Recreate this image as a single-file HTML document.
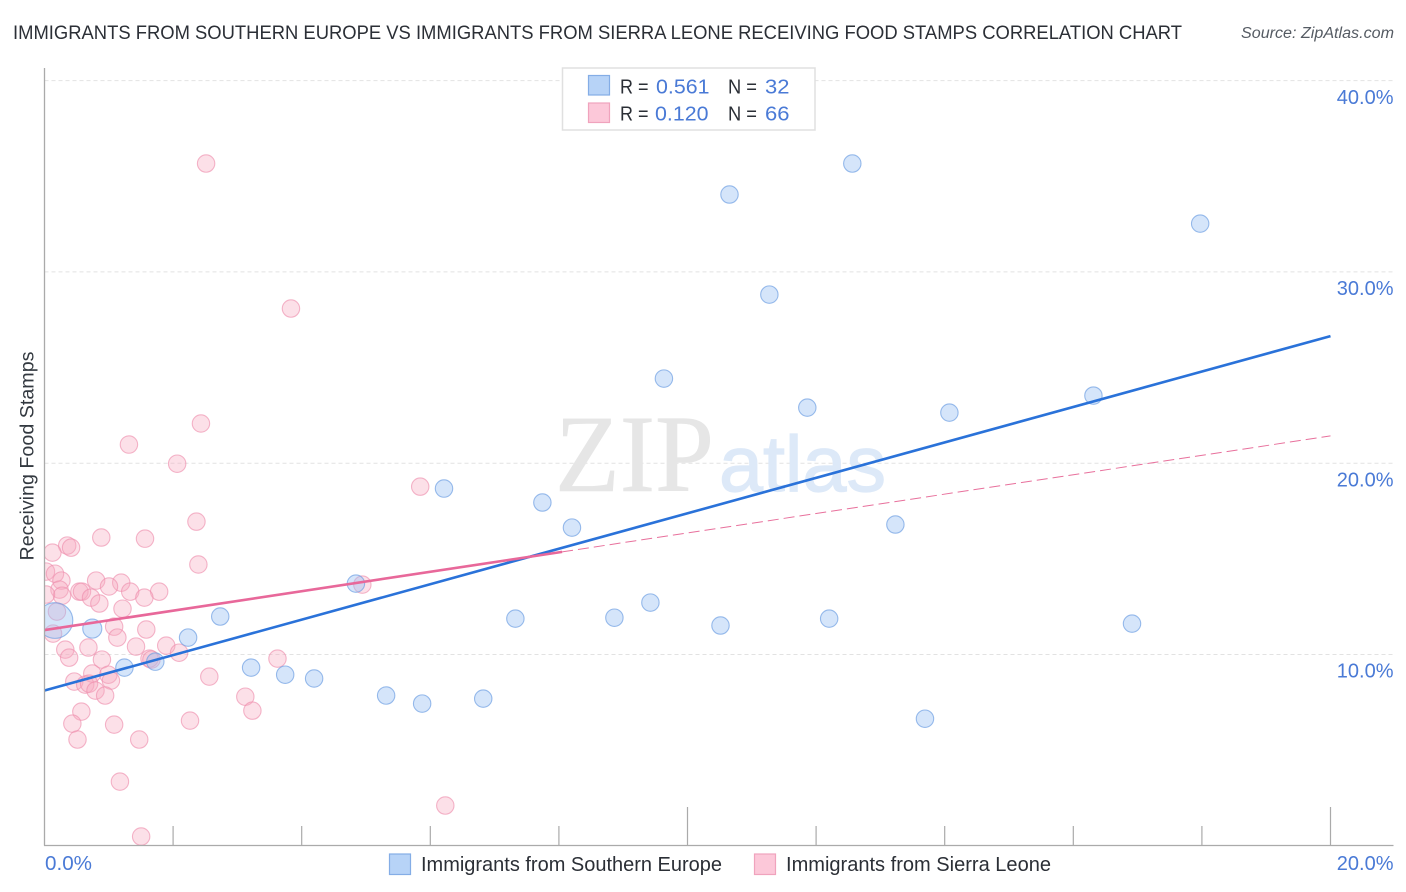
<!DOCTYPE html>
<html lang="en">
<head>
<meta charset="utf-8">
<title>Immigrants from Southern Europe vs Immigrants from Sierra Leone Receiving Food Stamps Correlation Chart</title>
<style>
html,body{margin:0;padding:0;background:#fff;}
svg{display:block;font-family:"Liberation Sans",sans-serif;}
</style>
</head>
<body>
<svg id="chart" xmlns="http://www.w3.org/2000/svg" width="1406" height="892" viewBox="0 0 1406 892">
  <rect x="0" y="0" width="1406" height="892" fill="#ffffff"/>
  <defs><clipPath id="plot-clip"><rect x="45" y="68" width="1348" height="777"/></clipPath></defs>

  <text x="13" y="39" font-size="19.5" fill="#2b2f36" textLength="1169" lengthAdjust="spacingAndGlyphs">IMMIGRANTS FROM SOUTHERN EUROPE VS IMMIGRANTS FROM SIERRA LEONE RECEIVING FOOD STAMPS CORRELATION CHART</text>
  <text x="1394" y="38" font-size="15.5" font-style="italic" fill="#555b63" text-anchor="end" textLength="153" lengthAdjust="spacingAndGlyphs">Source: ZipAtlas.com</text>

  <g id="grid"></g>

  <g>
    <text x="555" y="491" font-family="'Liberation Serif',serif" font-size="110" fill="#e6e6e6" stroke="#e6e6e6" stroke-width="0.6" textLength="159" lengthAdjust="spacingAndGlyphs">ZIP</text>
    <text x="719" y="491" font-size="79" fill="#dde9f8" stroke="#dde9f8" stroke-width="1.2" textLength="167" lengthAdjust="spacingAndGlyphs">atlas</text>
  </g>

  <g id="pink-points" clip-path="url(#plot-clip)"></g>
  <g id="blue-points" clip-path="url(#plot-clip)"></g>
  <g id="trends"></g>
  <g id="axes"></g>

  <text transform="translate(33.5,456) rotate(-90)" font-size="19" fill="#333940" text-anchor="middle" textLength="209" lengthAdjust="spacingAndGlyphs">Receiving Food Stamps</text>

  <g>
    <rect x="562.5" y="68" width="252.5" height="62" fill="#ffffff" stroke="#e0e0e0" stroke-width="1.5"/>
    <rect x="588.5" y="75.5" width="21" height="19.5" fill="#b7d3f7" stroke="#84ade6" stroke-width="1.2"/>
    <rect x="588.5" y="103" width="21" height="19.5" fill="#fcc8d9" stroke="#f0a3bd" stroke-width="1.2"/>
    <g font-size="20.5">
      <text x="620" y="93.5" fill="#2b2f36" textLength="28.5" lengthAdjust="spacingAndGlyphs">R =</text>
      <text x="656" y="93.5" fill="#4a7ad6" textLength="53.5" lengthAdjust="spacingAndGlyphs">0.561</text>
      <text x="728" y="93.5" fill="#2b2f36" textLength="29" lengthAdjust="spacingAndGlyphs">N =</text>
      <text x="765" y="93.5" fill="#4a7ad6" textLength="24.5" lengthAdjust="spacingAndGlyphs">32</text>
      <text x="620" y="120.5" fill="#2b2f36" textLength="28.5" lengthAdjust="spacingAndGlyphs">R =</text>
      <text x="655" y="120.5" fill="#4a7ad6" textLength="53.5" lengthAdjust="spacingAndGlyphs">0.120</text>
      <text x="728" y="120.5" fill="#2b2f36" textLength="29" lengthAdjust="spacingAndGlyphs">N =</text>
      <text x="765" y="120.5" fill="#4a7ad6" textLength="24.5" lengthAdjust="spacingAndGlyphs">66</text>
    </g>
  </g>

  <g>
    <rect x="389.5" y="854" width="21" height="20.5" fill="#b7d3f7" stroke="#84ade6" stroke-width="1.2"/>
    <text x="421" y="871" font-size="20" fill="#2b2f36" textLength="301" lengthAdjust="spacingAndGlyphs">Immigrants from Southern Europe</text>
    <rect x="754.5" y="854" width="21" height="20.5" fill="#fcc8d9" stroke="#f0a3bd" stroke-width="1.2"/>
    <text x="786" y="871" font-size="20" fill="#2b2f36" textLength="265" lengthAdjust="spacingAndGlyphs">Immigrants from Sierra Leone</text>
  </g>
</svg>
<script>
const blueX = [0.16,0.74,1.24,1.72,2.23,2.73,3.21,3.74,4.19,4.84,5.31,5.87,6.82,6.21,7.74,8.20,7.32,8.86,9.42,10.51,12.20,9.63,10.65,11.27,11.86,12.56,14.07,13.23,13.69,16.91,16.31,17.97];
const blueY = [11.79,11.37,9.33,9.64,10.90,12.00,9.33,8.96,8.76,13.72,7.87,7.45,7.71,18.69,17.96,16.65,11.89,11.94,12.73,11.53,11.89,24.44,34.06,28.83,22.92,35.68,22.66,16.81,6.66,11.63,23.55,32.54];
const blueWeight = [4.2,1.2,1,1,1,1,1,1,1,1,1,1,1,1,1,1,1,1,1,1,1,1,1,1,1,1,1,1,1,1,1,1];
const pinkX = [2.51,3.83,2.43,1.31,2.06,5.84,2.36,2.39,1.56,0.88,0.35,0.41,0.12,0.02,0.16,0.26,0.80,1.19,1.00,1.78,1.33,0.54,0.58,0.23,0.27,0.72,1.55,0.85,1.21,0.19,1.08,1.58,1.13,0.13,0.32,0.68,1.42,1.89,0.38,0.89,1.63,1.66,2.09,2.56,3.62,0.74,0.99,1.03,0.46,0.63,0.69,0.79,0.94,3.12,3.23,0.57,0.43,1.08,2.26,0.51,1.47,1.17,1.50,6.23,4.94,0.02];
const pinkY = [35.68,28.10,22.09,20.99,19.99,18.79,16.96,14.72,16.07,16.13,15.71,15.60,15.34,14.35,14.24,13.88,13.88,13.77,13.57,13.30,13.30,13.30,13.30,13.41,13.09,12.99,12.99,12.68,12.41,12.26,11.47,11.32,10.90,11.11,10.27,10.38,10.43,10.48,9.85,9.75,9.80,9.75,10.11,8.86,9.80,9.02,8.96,8.65,8.60,8.44,8.49,8.13,7.87,7.81,7.08,7.03,6.40,6.35,6.56,5.57,5.57,3.37,0.50,2.12,13.67,13.15];
const blueTrendX = [0,20];
const blueTrendY = [8.10,26.63];
const pinkSolidX = [0,8.05];
const pinkSolidY = [11.26,15.35];
const pinkDashX = [8.05,20];
const pinkDashY = [15.35,21.41];
const yTicks = [10,20,30,40];
const yTickLabels = ["10.0%","20.0%","30.0%","40.0%"];
const xTicks = [2,4,6,8,10,12,14,16,18,20];
const xTickLabels = ["0.0%","20.0%"];

const NS = 'http://www.w3.org/2000/svg';
function sx(v){ return 44.5 + v * 64.3; }
function sy(v){ return 845.5 - v * 19.13; }
function make(tag, attrs, parent){
  const el = document.createElementNS(NS, tag);
  for (const k in attrs) el.setAttribute(k, attrs[k]);
  parent.appendChild(el);
  return el;
}

const grid = document.getElementById('grid');
const axes = document.getElementById('axes');
const trends = document.getElementById('trends');
const pinkG = document.getElementById('pink-points');
const blueG = document.getElementById('blue-points');

yTicks.forEach(function(t, i){
  const g = make('line', {x1:44.5, x2:1393, y1:sy(t)+0.3, y2:sy(t)+0.3, stroke:'#e2e2e2', 'stroke-width':1, 'stroke-dasharray':'4 3'}, grid);
  
  
  const lab = make('text', {x:1393.5, y:sy(t)+23.5, 'font-size':20, fill:'#4a7ad6', 'text-anchor':'end'}, axes);
  lab.textContent = yTickLabels[i];
  
  
});

const yAxis = make('line', {x1:44.5, x2:44.5, y1:68, y2:845.5, stroke:'#aaaaaa', 'stroke-width':1.3}, axes);


const xAxis = make('line', {x1:44, x2:1393.5, y1:845.5, y2:845.5, stroke:'#aaaaaa', 'stroke-width':1.3}, axes);



xTicks.forEach(function(t){
  const top = (t % 10 === 0) ? 807 : 826;
  const tick = make('line', {x1:sx(t), x2:sx(t), y1:top, y2:845.5, stroke:'#aaaaaa', 'stroke-width':1.2}, axes);
  
  
});

const xLabelLeft = make('text', {x:45, y:870, 'font-size':20, fill:'#4a7ad6', textLength:47, lengthAdjust:'spacingAndGlyphs'}, axes);
xLabelLeft.textContent = xTickLabels[0];


const xLabelRight = make('text', {x:1393.5, y:870, 'font-size':20, fill:'#4a7ad6', 'text-anchor':'end'}, axes);
xLabelRight.textContent = xTickLabels[1];



pinkX.forEach(function(x, i){
  const c = make('circle', {cx:sx(x)+0.2, cy:sy(pinkY[i])+0.6, r:8.7, fill:'#f8a8c0', 'fill-opacity':0.36, stroke:'#ee8fae', 'stroke-opacity':0.65, 'stroke-width':1.1}, pinkG);
  
  
});
blueX.forEach(function(x, i){
  const c = make('circle', {cx:sx(x)+0.2, cy:sy(blueY[i])+0.6, r:8.7*Math.sqrt(blueWeight[i]), fill:'#9cc2f2', 'fill-opacity':0.42, stroke:'#6f9fe2', 'stroke-opacity':0.7, 'stroke-width':1.1}, blueG);
  
  
});

const pinkDash = make('line', {x1:sx(pinkDashX[0]), y1:sy(pinkDashY[0]), x2:sx(pinkDashX[1]), y2:sy(pinkDashY[1]), stroke:'#e8709c', 'stroke-width':1, 'stroke-dasharray':'11 5'}, trends);


const blueTrend = make('line', {x1:sx(blueTrendX[0]), y1:sy(blueTrendY[0]), x2:sx(blueTrendX[1]), y2:sy(blueTrendY[1]), stroke:'#2a72d9', 'stroke-width':2.6}, trends);


const pinkSolid = make('line', {x1:sx(pinkSolidX[0]), y1:sy(pinkSolidY[0]), x2:sx(pinkSolidX[1]), y2:sy(pinkSolidY[1]), stroke:'#e8689a', 'stroke-width':2.6}, trends);


</script>
</body>
</html>
